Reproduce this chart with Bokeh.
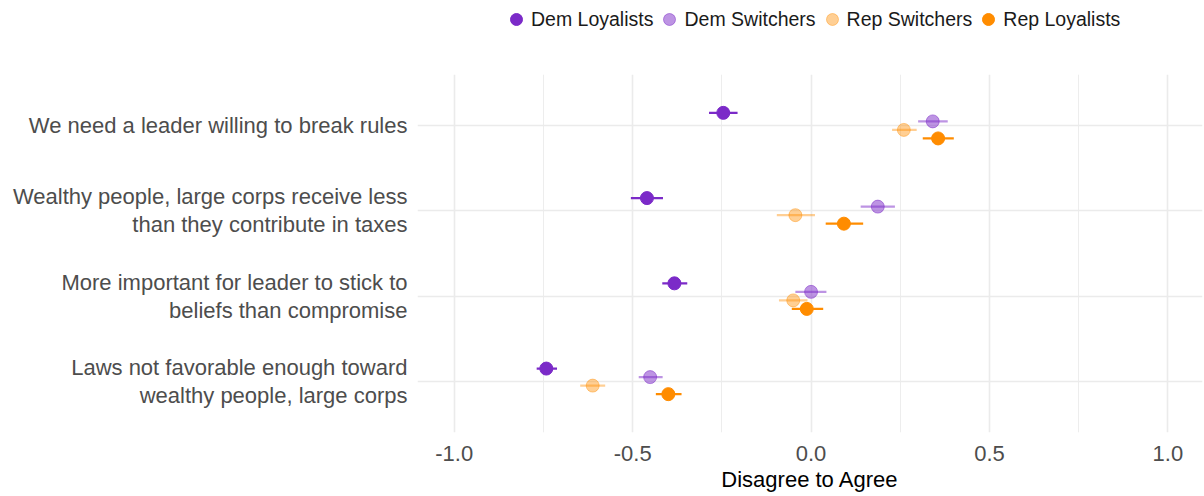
from bokeh.plotting import figure
from bokeh.layouts import column
from bokeh.models import ColumnDataSource, FixedTicker, Legend, LegendItem, Range1d
from bokeh.embed import file_html
from bokeh.resources import INLINE

# ---- data ----
categories = [
    ["Laws not favorable enough toward", "wealthy people, large corps"],
    ["More important for leader to stick to", "beliefs than compromise"],
    ["Wealthy people, large corps receive less", "than they contribute in taxes"],
    ["We need a leader willing to break rules"],
]
groups = ["Dem Loyalists", "Dem Switchers", "Rep Switchers", "Rep Loyalists"]

dem_loyal_mean = [-0.742, -0.383, -0.460, -0.246]
dem_loyal_low = [-0.769, -0.417, -0.505, -0.286]
dem_loyal_high = [-0.712, -0.347, -0.415, -0.206]

dem_switch_mean = [-0.451, 0.000, 0.187, 0.341]
dem_switch_low = [-0.483, -0.044, 0.139, 0.300]
dem_switch_high = [-0.416, 0.043, 0.235, 0.383]

rep_switch_mean = [-0.612, -0.050, -0.044, 0.260]
rep_switch_low = [-0.647, -0.090, -0.096, 0.227]
rep_switch_high = [-0.577, -0.010, 0.011, 0.296]

rep_loyal_mean = [-0.400, -0.012, 0.092, 0.356]
rep_loyal_low = [-0.435, -0.054, 0.041, 0.313]
rep_loyal_high = [-0.363, 0.034, 0.146, 0.400]

x_ticks = [-1.0, -0.5, 0.0, 0.5, 1.0]
x_tick_labels = ["-1.0", "-0.5", "0.0", "0.5", "1.0"]

# ---- styling ----
colors = ["#7B2AC8", "#7B2AC8", "#FF8C00", "#FF8C00"]
alphas = [1.0, 0.5, 0.42, 1.0]
offsets = [0.15, 0.05, -0.05, -0.15]
series = [
    (dem_loyal_mean, dem_loyal_low, dem_loyal_high),
    (dem_switch_mean, dem_switch_low, dem_switch_high),
    (rep_switch_mean, rep_switch_low, rep_switch_high),
    (rep_loyal_mean, rep_loyal_low, rep_loyal_high),
]

FONT = "Liberation Sans"
X0, X1 = -1.103, 1.097
LINE_GAP = 0.164  # half line spacing in category units

p = figure(width=1204, height=456, output_backend="svg", toolbar_location=None,
           x_range=Range1d(X0, X1), y_range=Range1d(0.4, 4.6),
           min_border_left=417, min_border_right=2, min_border_top=34,
           min_border_bottom=64)
p.outline_line_color = None

# legend strip above the main plot (its frame is aligned with the main frame)
pl = figure(width=1204, height=40, output_backend="svg", toolbar_location=None,
            x_range=Range1d(0, 1), y_range=Range1d(100, 101),
            min_border_left=417, min_border_right=2,
            min_border_top=0, min_border_bottom=0)
pl.outline_line_color = None
pl.axis.visible = False
pl.grid.visible = False

items = []
for (m, lo, hi), c, a, off, g in zip(series, colors, alphas, offsets, groups):
    ys = [i + 1 + off for i in range(len(categories))]
    src = ColumnDataSource(dict(m=m, lo=lo, hi=hi, y=ys))
    p.segment(x0="lo", x1="hi", y0="y", y1="y", source=src,
              line_color=c, line_alpha=a, line_width=2.3)
    p.scatter(x="m", y="y", source=src, size=13, marker="circle",
              fill_color=c, fill_alpha=a, line_color=c, line_alpha=a)
    # same points in the legend strip, out of its view; only used for the key
    lr = pl.scatter(x="m", y="y", source=src, size=13, marker="circle",
                    fill_color=c, fill_alpha=a, line_color=c, line_alpha=a)
    items.append(LegendItem(label=g, renderers=[lr]))

legend = Legend(items=items, orientation="horizontal", location=(84, 6),
                label_text_font=FONT, label_text_font_size="19.5px",
                label_text_color="#1A1A1A", border_line_color=None,
                background_fill_alpha=0, glyph_width=30, glyph_height=30,
                label_standoff=0, spacing=1, padding=0, margin=0)
pl.add_layout(legend, "center")

# y axis: one tick per text line, so two-line labels are right aligned
y_tick_pos = []
y_tick_text = {}
for i, lines in enumerate(categories):
    n = len(lines)
    for j, t in enumerate(lines):
        pos = round(i + 1 + (n - 1) * LINE_GAP - j * 2 * LINE_GAP, 3)
        y_tick_pos.append(pos)
        y_tick_text[pos] = t

p.yaxis.ticker = FixedTicker(ticks=y_tick_pos)
p.yaxis.major_label_overrides = y_tick_text
p.yaxis.major_label_text_font = FONT
p.yaxis.major_label_text_font_size = "22px"
p.yaxis.major_label_text_color = "#4D4D4D"
p.yaxis.major_label_standoff = 10

p.xaxis.ticker = FixedTicker(ticks=x_ticks, minor_ticks=[-0.75, -0.25, 0.25, 0.75])
p.xaxis.major_label_overrides = {t: s for t, s in zip(x_ticks, x_tick_labels)}
p.xaxis.axis_label = "Disagree to Agree"
p.xaxis.axis_label_text_font = FONT
p.xaxis.axis_label_text_font_size = "22px"
p.xaxis.axis_label_text_font_style = "normal"
p.xaxis.axis_label_text_color = "#000000"
p.xaxis.axis_label_standoff = 3
p.xaxis.major_label_text_font = FONT
p.xaxis.major_label_text_font_size = "22px"
p.xaxis.major_label_text_color = "#4D4D4D"
p.xaxis.major_label_standoff = 13

for ax in (p.xaxis, p.yaxis):
    ax.axis_line_color = None
    ax.major_tick_line_color = None
    ax.minor_tick_line_color = None
    ax.major_tick_out = 0
    ax.major_tick_in = 0
    ax.minor_tick_out = 0
    ax.minor_tick_in = 0

p.xgrid.grid_line_color = "#EBEBEB"
p.xgrid.grid_line_width = 1.6
p.xgrid.minor_grid_line_color = "#EBEBEB"
p.xgrid.minor_grid_line_width = 0.9
p.ygrid.ticker = FixedTicker(ticks=[1, 2, 3, 4])
p.ygrid.grid_line_color = "#EBEBEB"
p.ygrid.grid_line_width = 1.6

layout = column(pl, p, spacing=0)
open("out.html", "w").write(file_html(layout, INLINE))
